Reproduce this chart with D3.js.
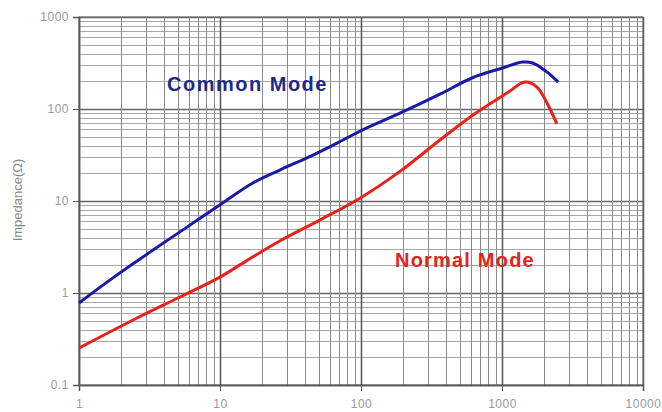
<!DOCTYPE html>
<html>
<head>
<meta charset="utf-8">
<script src="https://cdn.jsdelivr.net/npm/d3@7"></script>
<style>
  html, body { margin: 0; padding: 0; background: #fff; }
  svg { display: block; font-family: "Liberation Sans", Arial, sans-serif; }
</style>
</head>
<body>
<svg id="chart" width="662" height="412"></svg>
<script>
// ---- data ----
const xTickValues = [1, 10, 100, 1000, 10000];
const yTickValues = [0.1, 1, 10, 100, 1000];
const xTickLabels = ["1", "10", "100", "1000", "10000"];
const yTickLabels = ["0.1", "1", "10", "100", "1000"];

const commonFreq = [1.0, 1.74, 3.35, 5.83, 10.2, 17.1, 26.6, 45.7, 74.5, 102, 189, 363, 623, 1010, 1400, 1650, 2080, 2500];
const commonImp  = [0.78, 1.46, 2.93, 5.2, 9.3, 15.7, 21.7, 31.6, 46, 59, 90, 145, 220, 279, 324, 316, 253, 196];

const normalFreq = [1.0, 2.58, 5.2, 10, 15.5, 26.7, 51, 99, 189, 363, 623, 1085, 1455, 1770, 2085, 2450];
const normalImp  = [0.252, 0.535, 0.905, 1.49, 2.25, 3.7, 6.2, 10.8, 21, 46, 86, 149, 196, 173, 116, 69];

const seriesNames = ["Common Mode", "Normal Mode"];
const yAxisTitle = "Impedance(\u03A9)";

// ---- layout ----
const svg = d3.select("#chart");
const L = 79, R = 643, T = 17, B = 385;

const x = d3.scaleLog().domain([1, 10000]).range([L, R]);
const y = d3.scaleLog().domain([0.1, 1000]).range([B, T]);

// grid
const grid = svg.append("g");
const isMajor = v => Math.abs(Math.log10(v) - Math.round(Math.log10(v))) < 1e-9;

y.ticks().forEach(v => {
  grid.append("line")
    .attr("x1", L).attr("x2", R)
    .attr("y1", Math.round(y(v)) + 0.5).attr("y2", Math.round(y(v)) + 0.5)
    .attr("stroke", isMajor(v) ? "#666" : "#a8a8a8")
    .attr("stroke-width", isMajor(v) ? 1.5 : 1);
});
x.ticks().forEach(v => {
  grid.append("line")
    .attr("y1", T).attr("y2", B)
    .attr("x1", Math.round(x(v)) + 0.5).attr("x2", Math.round(x(v)) + 0.5)
    .attr("stroke", isMajor(v) ? "#555" : "#8a8a8a")
    .attr("stroke-width", isMajor(v) ? 1.5 : 1);
});

// frame
svg.append("rect").attr("x", L).attr("y", T).attr("width", R - L).attr("height", B - T)
  .attr("fill", "none").attr("stroke", "#666").attr("stroke-width", 1);

// axes
const xAxis = svg.append("g").attr("transform", `translate(0,${B})`)
  .call(d3.axisBottom(x).tickValues(xTickValues).tickSize(6).tickPadding(8)
    .tickFormat((d, i) => xTickLabels[i]));
const yAxis = svg.append("g").attr("transform", `translate(${L},0)`)
  .call(d3.axisLeft(y).tickValues(yTickValues).tickSize(6).tickPadding(4)
    .tickFormat((d, i) => yTickLabels[i]));
[xAxis, yAxis].forEach(a => {
  a.select(".domain").attr("stroke", "#555").attr("stroke-width", 1.5);
  a.selectAll(".tick line").attr("stroke", "#555");
  a.selectAll(".tick text").attr("fill", "#999").attr("font-size", 12)
    .attr("letter-spacing", "0.5px")
    .attr("font-family", "'Liberation Sans', Arial, sans-serif");
});

// y-axis title
svg.append("text")
  .attr("transform", `translate(22,200) rotate(-90)`)
  .attr("text-anchor", "middle")
  .attr("fill", "#888").attr("font-size", 13)
  .text(yAxisTitle);

// curves
const line = d3.line()
  .x(d => x(d[0])).y(d => y(d[1]))
  .curve(d3.curveCatmullRom.alpha(0.5));

svg.append("path")
  .datum(commonFreq.map((f, i) => [f, commonImp[i]]))
  .attr("d", line).attr("fill", "none")
  .attr("stroke", "#1a1aa6").attr("stroke-width", 3);

svg.append("path")
  .datum(normalFreq.map((f, i) => [f, normalImp[i]]))
  .attr("d", line).attr("fill", "none")
  .attr("stroke", "#e5231b").attr("stroke-width", 3);

// series labels
svg.append("text")
  .attr("x", 167).attr("y", 91)
  .attr("fill", "#1f2a86").attr("font-weight", "bold").attr("font-size", 20)
  .attr("letter-spacing", "1.5px")
  .text(seriesNames[0]);

svg.append("text")
  .attr("x", 395).attr("y", 267)
  .attr("fill", "#e5231b").attr("font-weight", "bold").attr("font-size", 20)
  .attr("letter-spacing", "1.2px")
  .text(seriesNames[1]);
</script>
</body>
</html>
